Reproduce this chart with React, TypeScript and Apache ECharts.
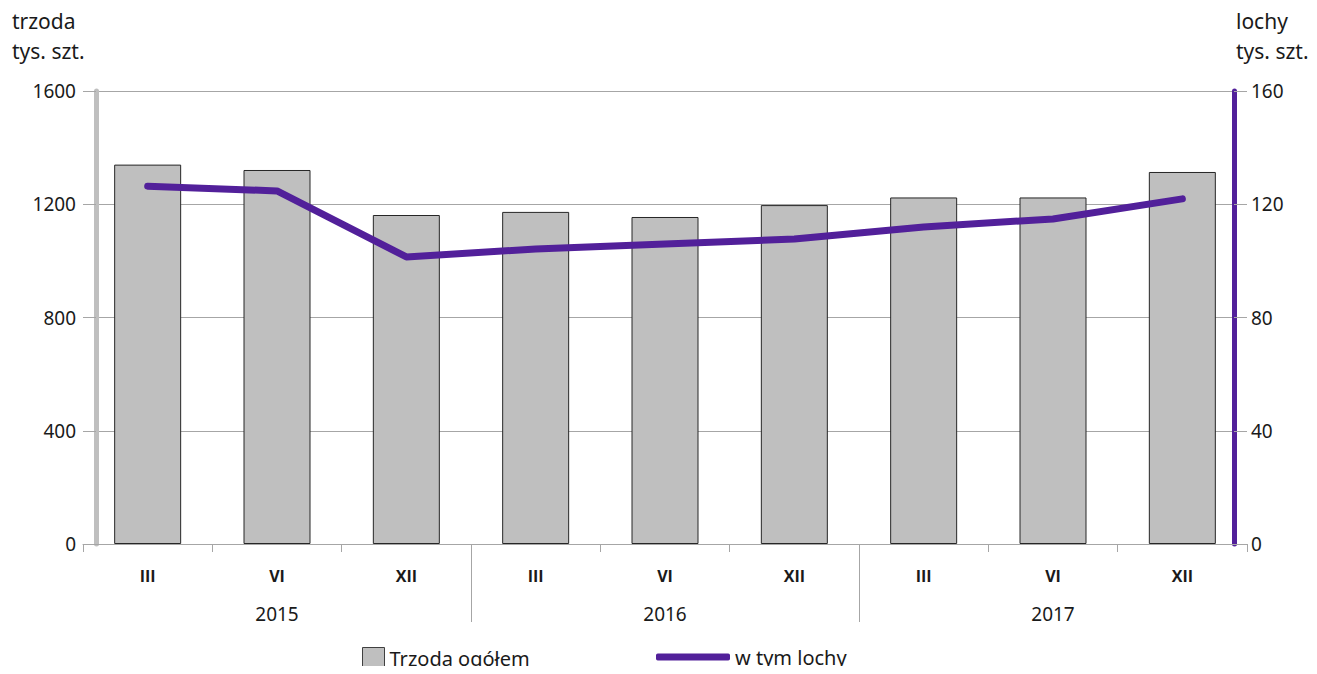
import React, { useEffect, useRef } from "react";
import * as echarts from "echarts";

const years = ["2015", "2016", "2017"];
const months = ["III", "VI", "XII"];
const trzoda = [1340, 1321, 1162, 1173, 1155, 1197, 1224, 1224, 1314];
const lochy = [126.4, 124.7, 101.4, 104.2, 106.0, 107.7, 112.0, 114.8, 121.9];
const leftAxisTitle = "trzoda\ntys. szt.";
const rightAxisTitle = "lochy\ntys. szt.";
const seriesNames = ["Trzoda ogółem", "w tym lochy"];

const FONT = "'Noto Sans', 'Open Sans', sans-serif";
const BOLDFONT = "'Open Sans', 'DejaVu Sans', sans-serif";
const PURPLE = "#52209a";
const TEXT = "#1a1a1a";

export default function App() {
  const ref = useRef<HTMLDivElement>(null);
  useEffect(() => {
    if (!ref.current) return;
    const chart = echarts.init(ref.current, undefined, { renderer: "svg" });
    const categories: string[] = [];
    years.forEach((y) => months.forEach((m) => categories.push(y + "|" + m)));
    const titles = [
      {
        type: "text",
        left: 12,
        top: 6,
        style: { text: leftAxisTitle, fontSize: 21, lineHeight: 30, fill: TEXT, fontFamily: FONT },
      },
      {
        type: "text",
        left: 1236,
        top: 6,
        style: { text: rightAxisTitle, fontSize: 21, lineHeight: 30, fill: TEXT, fontFamily: FONT },
      },
    ];
    chart.setOption({
      animation: false,
      textStyle: { fontFamily: FONT },
      grid: { left: 83, right: 70, top: 91, bottom: 130, containLabel: false },
      legend: [
        {
          data: [{ name: seriesNames[0], icon: "rect" }],
          left: 362,
          top: 647,
          padding: 0,
          itemWidth: 22,
          itemHeight: 22,
          itemGap: 8,
          itemStyle: { borderColor: "#404040", borderWidth: 1 },
          textStyle: { fontSize: 20, color: TEXT, fontFamily: FONT },
        },
        {
          data: [{ name: seriesNames[1], icon: "roundRect" }],
          left: 656,
          top: 647,
          padding: 0,
          itemWidth: 74,
          itemHeight: 7,
          itemGap: 2,
          textStyle: { fontSize: 20, color: TEXT, fontFamily: FONT },
        },
      ],
      xAxis: [
        {
          type: "category",
          data: categories,
          position: "bottom",
          boundaryGap: true,
          axisLine: { show: true, lineStyle: { color: "#a6a6a6", width: 1 } },
          axisTick: { show: true, length: 8, lineStyle: { color: "#a6a6a6" } },
          axisLabel: {
            formatter: (v: string) => v.split("|")[1],
            margin: 24,
            fontSize: 16,
            fontWeight: "bold",
            color: TEXT,
            fontFamily: BOLDFONT,
            interval: 0,
          },
        },
        {
          type: "category",
          data: years,
          position: "bottom",
          boundaryGap: true,
          axisLine: { show: false },
          axisTick: { show: false },
          axisLabel: { margin: 60, fontSize: 19, color: TEXT, fontFamily: FONT },
        },
      ],
      yAxis: [
        {
          type: "value",
          min: 0,
          max: 1600,
          interval: 400,
          position: "left",
          offset: -13,
          axisLine: { show: true, lineStyle: { color: "#bfbfbf", width: 5 } },
          axisTick: { show: true, length: 8, lineStyle: { color: "#a6a6a6", width: 1 } },
          axisLabel: {
            margin: 20,
            fontSize: 19,
            color: TEXT,
            fontFamily: FONT,
            formatter: (v: number) => String(v),
          },
          splitLine: { show: true, lineStyle: { color: "#a6a6a6", width: 1 } },
        },
        {
          type: "value",
          min: 0,
          max: 160,
          interval: 40,
          position: "right",
          offset: -13,
          axisLine: { show: true, lineStyle: { color: PURPLE, width: 5 } },
          axisTick: { show: true, length: 8, lineStyle: { color: "#a6a6a6", width: 1 } },
          axisLabel: {
            margin: 17,
            fontSize: 19,
            color: TEXT,
            fontFamily: FONT,
            formatter: (v: number) => String(v),
          },
          splitLine: { show: false },
        },
      ],
      series: [
        {
          name: seriesNames[0],
          type: "bar",
          xAxisIndex: 0,
          yAxisIndex: 0,
          data: trzoda,
          barWidth: 67,
          itemStyle: { color: "#bfbfbf", borderColor: "#262626", borderWidth: 1 },
        },
        {
          name: seriesNames[1],
          type: "line",
          xAxisIndex: 0,
          yAxisIndex: 1,
          data: lochy,
          showSymbol: false,
          symbol: "none",
          lineStyle: { color: PURPLE, width: 7, cap: "round", join: "round" },
          itemStyle: { color: PURPLE },
          z: 5,
        },
      ],
      graphic: titles,
    });

    // year separators between category groups, positioned via the axis scale
    const y0 = chart.convertToPixel({ yAxisIndex: 0 }, 0) as number;
    const seps: any[] = [];
    for (let g = 1; g < years.length; g++) {
      const a = chart.convertToPixel({ xAxisIndex: 0 }, categories[g * months.length - 1]) as number;
      const b = chart.convertToPixel({ xAxisIndex: 0 }, categories[g * months.length]) as number;
      const x = Math.round((a + b) / 2) + 0.5;
      seps.push({
        type: "line",
        shape: { x1: x, y1: y0, x2: x, y2: y0 + 78 },
        style: { stroke: "#a6a6a6", lineWidth: 1 },
        silent: true,
      });
    }
    chart.setOption({ graphic: [...titles, ...seps] });
    return () => chart.dispose();
  }, []);
  return <div ref={ref} style={{ width: 1317, height: 674, margin: -8 }} />;
}
